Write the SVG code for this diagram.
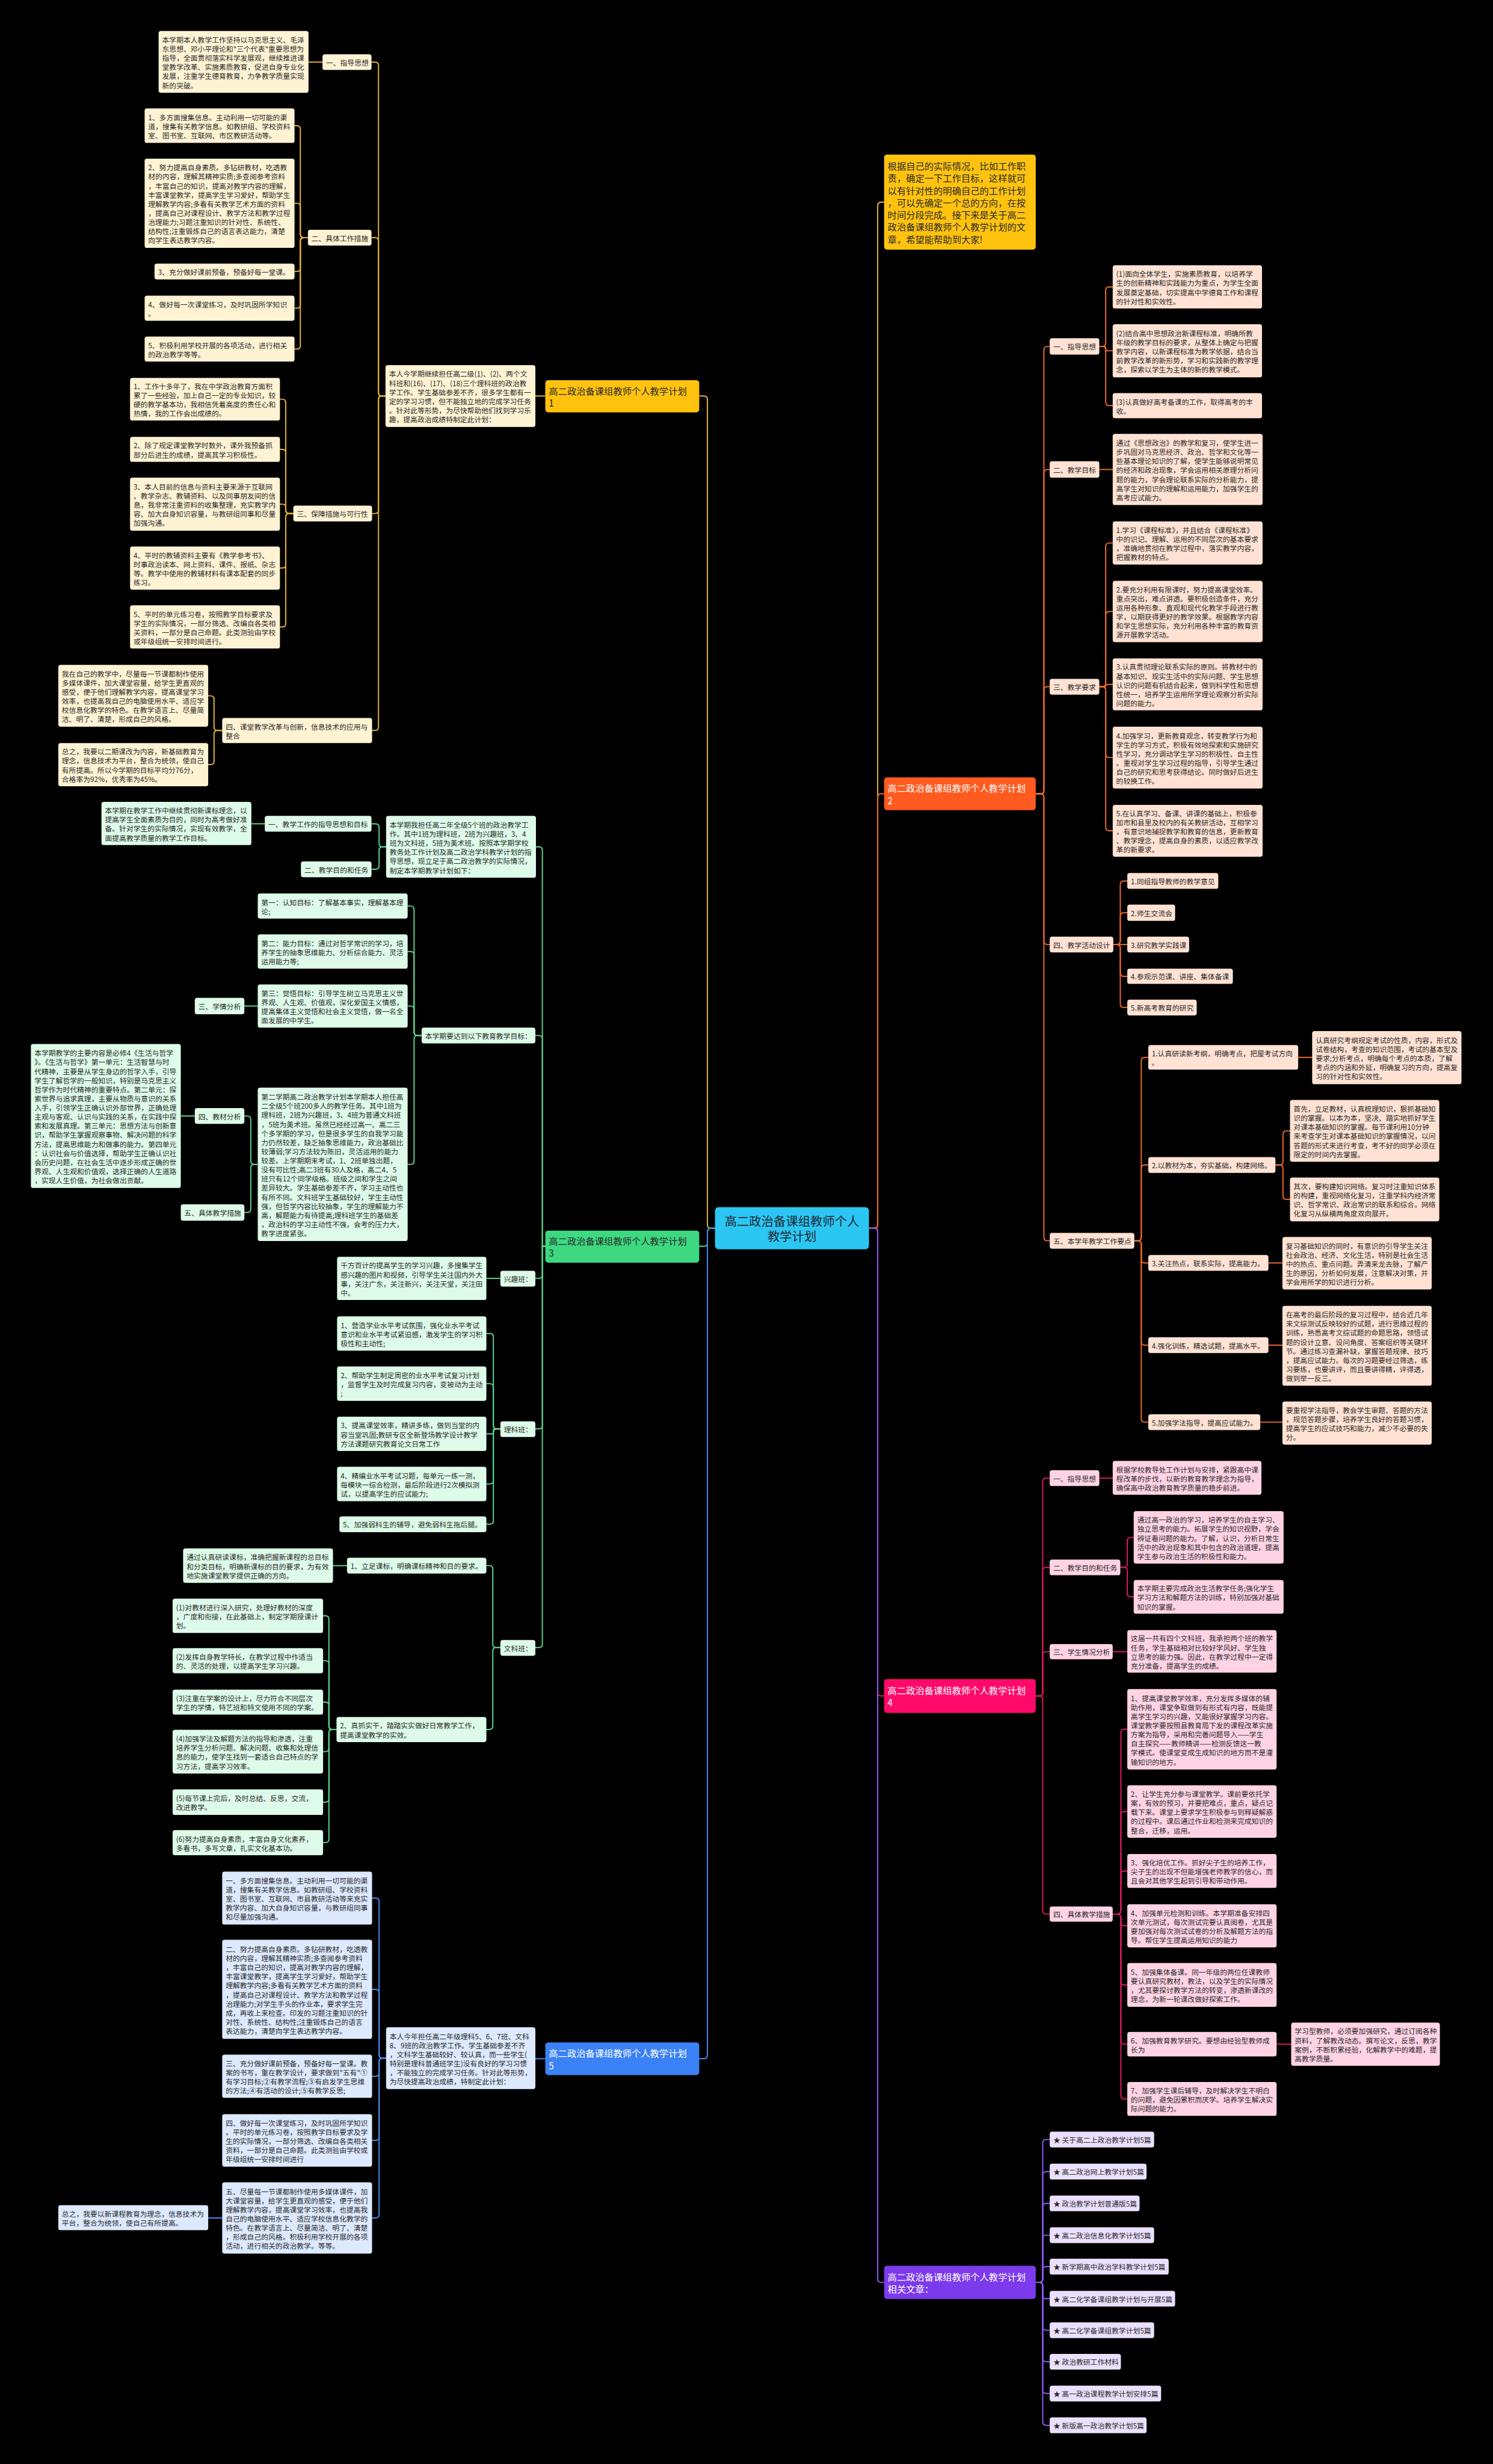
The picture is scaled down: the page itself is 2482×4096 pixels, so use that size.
<svg xmlns="http://www.w3.org/2000/svg" width="2482" height="4096" viewBox="0 0 2482 4096">
<style>
.t{font-family:"Noto Sans CJK SC","Noto Sans",sans-serif;font-size:12.2px;fill:#2a2a2a;dominant-baseline:central}
.tb{font-family:"Noto Sans CJK SC","Noto Sans",sans-serif;font-size:15.8px;fill:#2a2a2a;dominant-baseline:central}
.tc{font-family:"Noto Sans CJK SC","Noto Sans",sans-serif;font-size:21px;fill:#1e2a33;dominant-baseline:central;text-anchor:middle}
.w{fill:#fff}
.s1{fill:#FFF3D4}.s2{fill:#FFE2D3}.s3{fill:#DDFBE8}.s4{fill:#FFD3E4}.s5{fill:#DCE9FE}.s6{fill:#EADFFC}
.c{fill:none;stroke-width:2}
.c1{stroke:#E6B337}.c2{stroke:#F06A2A}.c3{stroke:#5BD58F}.c4{stroke:#DC1A63}.c5{stroke:#4B8BEF}.c6{stroke:#8B5CF6}
</style>
<rect width="2482" height="4096" fill="#000"/>
<g transform="scale(0.9695)">
<g id="connectors" class="c">
<path class="c1" d="M1199 679H1207Q1213 679 1213 685V2100Q1213 2106 1219 2106H1226"/>
<path class="c3" d="M1199 2137H1207Q1213 2137 1213 2131V2112Q1213 2106 1219 2106H1226"/>
<path class="c5" d="M1199 3530H1207Q1213 3530 1213 3524V2112Q1213 2106 1219 2106H1226"/>
<path class="c1" d="M1490 2106H1499Q1505 2106 1505 2100V352.5Q1505 346.5 1511 346.5H1516"/>
<path class="c2" d="M1490 2106H1499Q1505 2106 1505 2100V1367Q1505 1361 1511 1361H1516"/>
<path class="c4" d="M1490 2106H1499Q1505 2106 1505 2112V2902Q1505 2908 1511 2908H1516"/>
<path class="c6" d="M1490 2106H1499Q1505 2106 1505 2112V3907.5Q1505 3913.5 1511 3913.5H1516"/>
<path class="c1" d="M918 679H935"/>
<path class="c1" d="M637 106.5H643Q649 106.5 649 112.5V673Q649 679 655 679H661"/>
<path class="c1" d="M637 407.5H643Q649 407.5 649 413.5V673Q649 679 655 679H661"/>
<path class="c1" d="M638 880.5H643Q649 880.5 649 874.5V685Q649 679 655 679H661"/>
<path class="c1" d="M638 1252.5H643Q649 1252.5 649 1246.5V685Q649 679 655 679H661"/>
<path class="c1" d="M529 106.5H553"/>
<path class="c1" d="M505 215.5H509Q515 215.5 515 221.5V401.5Q515 407.5 521 407.5H528"/>
<path class="c1" d="M505 348.5H509Q515 348.5 515 354.5V401.5Q515 407.5 521 407.5H528"/>
<path class="c1" d="M505 465.5H509Q515 465.5 515 459.5V413.5Q515 407.5 521 407.5H528"/>
<path class="c1" d="M505 528.5H509Q515 528.5 515 522.5V413.5Q515 407.5 521 407.5H528"/>
<path class="c1" d="M505 598.5H509Q515 598.5 515 592.5V413.5Q515 407.5 521 407.5H528"/>
<path class="c1" d="M480 684.5H484Q490 684.5 490 690.5V874.5Q490 880.5 496 880.5H503"/>
<path class="c1" d="M480 770.5H484Q490 770.5 490 776.5V874.5Q490 880.5 496 880.5H503"/>
<path class="c1" d="M480 864.5H484Q490 864.5 490 870.5V874.5Q490 880.5 496 880.5H503"/>
<path class="c1" d="M480 974H484Q490 974 490 968V886.5Q490 880.5 496 880.5H503"/>
<path class="c1" d="M480 1075H484Q490 1075 490 1069V886.5Q490 880.5 496 880.5H503"/>
<path class="c1" d="M357 1193H361Q367 1193 367 1199V1246.5Q367 1252.5 373 1252.5H381"/>
<path class="c1" d="M357 1311H361Q367 1311 367 1305V1258.5Q367 1252.5 373 1252.5H381"/>
<path class="c3" d="M919 1452H924Q930 1452 930 1458V2137H935"/>
<path class="c3" d="M918 1775.5H924Q930 1775.5 930 1781.5V2137H935"/>
<path class="c3" d="M918 2192H924Q930 2192 930 2186V2137H935"/>
<path class="c3" d="M918 2450H924Q930 2450 930 2444V2137H935"/>
<path class="c3" d="M918 2825H924Q930 2825 930 2819V2137H935"/>
<path class="c3" d="M637 1412.5H644Q650 1412.5 650 1418.5V1446Q650 1452 656 1452H662"/>
<path class="c3" d="M637 1490.5H644Q650 1490.5 650 1484.5V1458Q650 1452 656 1452H662"/>
<path class="c3" d="M431 1412.5H454"/>
<path class="c3" d="M699 1553.5H704Q710 1553.5 710 1559.5V1769.5Q710 1775.5 716 1775.5H723"/>
<path class="c3" d="M699 1631.5H704Q710 1631.5 710 1637.5V1769.5Q710 1775.5 716 1775.5H723"/>
<path class="c3" d="M699 1725H704Q710 1725 710 1731V1769.5Q710 1775.5 716 1775.5H723"/>
<path class="c3" d="M699 1996.5H704Q710 1996.5 710 1990.5V1781.5Q710 1775.5 716 1775.5H723"/>
<path class="c3" d="M419 1725H442"/>
<path class="c3" d="M419 1913.5H424Q430 1913.5 430 1919.5V1990.5Q430 1996.5 436 1996.5H442"/>
<path class="c3" d="M419 2079H424Q430 2079 430 2073V2002.5Q430 1996.5 436 1996.5H442"/>
<path class="c3" d="M310 1913.5H334"/>
<path class="c3" d="M834 2192H858"/>
<path class="c3" d="M834 2286.5H840Q846 2286.5 846 2292.5V2444Q846 2450 852 2450H858"/>
<path class="c3" d="M834 2372.5H840Q846 2372.5 846 2378.5V2444Q846 2450 852 2450H858"/>
<path class="c3" d="M834 2458.5H843Q846 2458.5 846 2455.5V2453Q846 2450 849 2450H858"/>
<path class="c3" d="M834 2544.5H840Q846 2544.5 846 2538.5V2456Q846 2450 852 2450H858"/>
<path class="c3" d="M834 2613.5H840Q846 2613.5 846 2607.5V2456Q846 2450 852 2450H858"/>
<path class="c3" d="M834 2684.5H839Q845 2684.5 845 2690.5V2819Q845 2825 851 2825H858"/>
<path class="c3" d="M834 2965.5H839Q845 2965.5 845 2959.5V2831Q845 2825 851 2825H858"/>
<path class="c3" d="M571 2684.5H595"/>
<path class="c3" d="M554 2770.5H558Q564 2770.5 564 2776.5V2959.5Q564 2965.5 570 2965.5H577"/>
<path class="c3" d="M554 2847.5H558Q564 2847.5 564 2853.5V2959.5Q564 2965.5 570 2965.5H577"/>
<path class="c3" d="M554 2918.5H558Q564 2918.5 564 2924.5V2959.5Q564 2965.5 570 2965.5H577"/>
<path class="c3" d="M554 3003.5H558Q564 3003.5 564 2997.5V2971.5Q564 2965.5 570 2965.5H577"/>
<path class="c3" d="M554 3090H558Q564 3090 564 3084V2971.5Q564 2965.5 570 2965.5H577"/>
<path class="c3" d="M554 3159.5H558Q564 3159.5 564 3153.5V2971.5Q564 2965.5 570 2965.5H577"/>
<path class="c5" d="M918 3530H935"/>
<path class="c5" d="M638 3254.5H644Q650 3254.5 650 3260.5V3523Q650 3529 656 3529H662"/>
<path class="c5" d="M638 3411H644Q650 3411 650 3417V3523Q650 3529 656 3529H662"/>
<path class="c5" d="M638 3560H644Q650 3560 650 3554V3535Q650 3529 656 3529H662"/>
<path class="c5" d="M638 3670H644Q650 3670 650 3664V3535Q650 3529 656 3529H662"/>
<path class="c5" d="M638 3803H644Q650 3803 650 3797V3535Q650 3529 656 3529H662"/>
<path class="c5" d="M357 3803H381"/>
<path class="c2" d="M1776 1361H1784Q1790 1361 1790 1355V600Q1790 594 1796 594H1800"/>
<path class="c2" d="M1776 1361H1784Q1790 1361 1790 1355V811Q1790 805 1796 805H1800"/>
<path class="c2" d="M1776 1361H1784Q1790 1361 1790 1355V1183.5Q1790 1177.5 1796 1177.5H1800"/>
<path class="c2" d="M1776 1361H1784Q1790 1361 1790 1367V1613.5Q1790 1619.5 1796 1619.5H1800"/>
<path class="c2" d="M1776 1361H1784Q1790 1361 1790 1367V2121.5Q1790 2127.5 1796 2127.5H1800"/>
<path class="c2" d="M1885 594H1890Q1896 594 1896 588V498Q1896 492 1902 492H1908"/>
<path class="c2" d="M1885 594H1893Q1896 594 1896 597V598.5Q1896 601.5 1899 601.5H1908"/>
<path class="c2" d="M1885 594H1890Q1896 594 1896 600V689.5Q1896 695.5 1902 695.5H1908"/>
<path class="c2" d="M1885 805H1908"/>
<path class="c2" d="M1885 1177.5H1890Q1896 1177.5 1896 1171.5V937Q1896 931 1902 931H1908"/>
<path class="c2" d="M1885 1177.5H1890Q1896 1177.5 1896 1171.5V1054.5Q1896 1048.5 1902 1048.5H1908"/>
<path class="c2" d="M1885 1177.5H1893Q1896 1177.5 1896 1175.5Q1896 1173.5 1899 1173.5H1908"/>
<path class="c2" d="M1885 1177.5H1890Q1896 1177.5 1896 1183.5V1293Q1896 1299 1902 1299H1908"/>
<path class="c2" d="M1885 1177.5H1890Q1896 1177.5 1896 1183.5V1418.5Q1896 1424.5 1902 1424.5H1908"/>
<path class="c2" d="M1909 1619.5H1915Q1921 1619.5 1921 1613.5V1516.5Q1921 1510.5 1927 1510.5H1933"/>
<path class="c2" d="M1909 1619.5H1915Q1921 1619.5 1921 1613.5V1571Q1921 1565 1927 1565H1933"/>
<path class="c2" d="M1909 1619.5H1933"/>
<path class="c2" d="M1909 1619.5H1915Q1921 1619.5 1921 1625.5V1668Q1921 1674 1927 1674H1933"/>
<path class="c2" d="M1909 1619.5H1915Q1921 1619.5 1921 1625.5V1721.5Q1921 1727.5 1927 1727.5H1933"/>
<path class="c2" d="M1945 2127.5H1951Q1957 2127.5 1957 2121.5V1819Q1957 1813 1963 1813H1969"/>
<path class="c2" d="M1945 2127.5H1951Q1957 2127.5 1957 2121.5V2003.5Q1957 1997.5 1963 1997.5H1969"/>
<path class="c2" d="M1945 2127.5H1951Q1957 2127.5 1957 2133.5V2159.5Q1957 2165.5 1963 2165.5H1969"/>
<path class="c2" d="M1945 2127.5H1951Q1957 2127.5 1957 2133.5V2300.5Q1957 2306.5 1963 2306.5H1969"/>
<path class="c2" d="M1945 2127.5H1951Q1957 2127.5 1957 2133.5V2432.5Q1957 2438.5 1963 2438.5H1969"/>
<path class="c2" d="M2226 1813H2250"/>
<path class="c2" d="M2187 1997.5H2194Q2200 1997.5 2200 1991.5V1945Q2200 1939 2206 1939H2212"/>
<path class="c2" d="M2187 1997.5H2194Q2200 1997.5 2200 2003.5V2050.5Q2200 2056.5 2206 2056.5H2212"/>
<path class="c2" d="M2175 2165.5H2199"/>
<path class="c2" d="M2175 2306.5H2199"/>
<path class="c2" d="M2161 2438.5H2199"/>
<path class="c4" d="M1776 2908H1782Q1788 2908 1788 2902V2540.5Q1788 2534.5 1794 2534.5H1800"/>
<path class="c4" d="M1776 2908H1782Q1788 2908 1788 2902V2693.5Q1788 2687.5 1794 2687.5H1800"/>
<path class="c4" d="M1776 2908H1782Q1788 2908 1788 2902V2838Q1788 2832 1794 2832H1800"/>
<path class="c4" d="M1776 2908H1782Q1788 2908 1788 2914V3276Q1788 3282 1794 3282H1800"/>
<path class="c4" d="M1885 2534.5H1908"/>
<path class="c4" d="M1921 2687.5H1927Q1933 2687.5 1933 2681.5V2642Q1933 2636 1939 2636H1944"/>
<path class="c4" d="M1921 2687.5H1927Q1933 2687.5 1933 2693.5V2732Q1933 2738 1939 2738H1944"/>
<path class="c4" d="M1908 2832H1933"/>
<path class="c4" d="M1908 3282H1916Q1922 3282 1922 3276V2971Q1922 2965 1928 2965H1933"/>
<path class="c4" d="M1908 3282H1916Q1922 3282 1922 3276V3112Q1922 3106 1928 3106H1933"/>
<path class="c4" d="M1908 3282H1916Q1922 3282 1922 3276V3214Q1922 3208 1928 3208H1933"/>
<path class="c4" d="M1908 3282H1916Q1922 3282 1922 3288V3296Q1922 3302 1928 3302H1933"/>
<path class="c4" d="M1908 3282H1916Q1922 3282 1922 3288V3397.5Q1922 3403.5 1928 3403.5H1933"/>
<path class="c4" d="M1908 3282H1916Q1922 3282 1922 3288V3499Q1922 3505 1928 3505H1933"/>
<path class="c4" d="M1908 3282H1916Q1922 3282 1922 3288V3593Q1922 3599 1928 3599H1933"/>
<path class="c4" d="M2189 3505H2214"/>
<path class="c6" d="M1776 3913.5H1782Q1788 3913.5 1788 3907.5V3674.5Q1788 3668.5 1794 3668.5H1800"/>
<path class="c6" d="M1776 3913.5H1782Q1788 3913.5 1788 3907.5V3729.5Q1788 3723.5 1794 3723.5H1800"/>
<path class="c6" d="M1776 3913.5H1782Q1788 3913.5 1788 3907.5V3784Q1788 3778 1794 3778H1800"/>
<path class="c6" d="M1776 3913.5H1782Q1788 3913.5 1788 3907.5V3838.5Q1788 3832.5 1794 3832.5H1800"/>
<path class="c6" d="M1776 3913.5H1782Q1788 3913.5 1788 3907.5V3892.5Q1788 3886.5 1794 3886.5H1800"/>
<path class="c6" d="M1776 3913.5H1782Q1788 3913.5 1788 3919.5V3935.5Q1788 3941.5 1794 3941.5H1800"/>
<path class="c6" d="M1776 3913.5H1782Q1788 3913.5 1788 3919.5V3989.5Q1788 3995.5 1794 3995.5H1800"/>
<path class="c6" d="M1776 3913.5H1782Q1788 3913.5 1788 3919.5V4043.5Q1788 4049.5 1794 4049.5H1800"/>
<path class="c6" d="M1776 3913.5H1782Q1788 3913.5 1788 3919.5V4098Q1788 4104 1794 4104H1800"/>
<path class="c6" d="M1776 3913.5H1782Q1788 3913.5 1788 3919.5V4152.5Q1788 4158.5 1794 4158.5H1800"/>
</g>

<g id="center"><rect x="1226" y="2070" width="264" height="72" rx="6" fill="#2CC6F3"/><text class="tc" x="1358" y="2093"><tspan x="1358">高二政治备课组教师个人</tspan><tspan x="1358" dy="26">教学计划</tspan></text></g>

<g id="b1"><rect x="935" y="652" width="264" height="55" rx="5" fill="#FFC20E"/><text class="tb" x="941" y="669"><tspan x="941">高二政治备课组教师个人教学计划</tspan><tspan x="941" dy="21">1</tspan></text></g>
<g id="b1-intro"><rect class="s1" x="661" y="626" width="257" height="106" rx="4"/><text class="t" x="667" y="640"><tspan x="667">本人今学期继续担任高二级(1)、(2)、两个文</tspan><tspan x="667" dy="15.6">科班和(16)、(17)、(18)三个理科班的政治教</tspan><tspan x="667" dy="15.6">学工作。学生基础参差不齐，很多学生都有一</tspan><tspan x="667" dy="15.6">定的学习习惯，但不能独立地的完成学习任务</tspan><tspan x="667" dy="15.6">。针对此等形势，为尽快帮助他们找到学习乐</tspan><tspan x="667" dy="15.6">趣，提高政治成绩特制定此计划：</tspan></text></g>
<g id="b1-1"><rect class="s1" x="553" y="93" width="84" height="27" rx="4"/><text class="t" x="559" y="106.5">一、指导思想</text></g>
<g id="b1-1a"><rect class="s1" x="272" y="53" width="257" height="106" rx="4"/><text class="t" x="278" y="67"><tspan x="278">本学期本人教学工作坚持以马克思主义、毛泽</tspan><tspan x="278" dy="15.6">东思想、邓小平理论和"三个代表"重要思想为</tspan><tspan x="278" dy="15.6">指导，全面贯彻落实科学发展观，继续推进课</tspan><tspan x="278" dy="15.6">堂教学改革、实施素质教育，促进自身专业化</tspan><tspan x="278" dy="15.6">发展，注重学生德育教育，力争教学质量实现</tspan><tspan x="278" dy="15.6">新的突破。</tspan></text></g>
<g id="b1-2"><rect class="s1" x="528" y="394" width="109" height="27" rx="4"/><text class="t" x="534" y="407.5">二、具体工作措施</text></g>
<g id="b1-2a"><rect class="s1" x="248" y="186" width="257" height="59" rx="4"/><text class="t" x="254" y="199.9"><tspan x="254">1、多方面搜集信息。主动利用一切可能的渠</tspan><tspan x="254" dy="15.6">道，搜集有关教学信息。如教研组、学校资料</tspan><tspan x="254" dy="15.6">室、图书室、互联网、市区教研活动等。</tspan></text></g>
<g id="b1-2b"><rect class="s1" x="248" y="272" width="257" height="153" rx="4"/><text class="t" x="254" y="286.1"><tspan x="254">2、努力提高自身素质。多钻研教材，吃透教</tspan><tspan x="254" dy="15.6">材的内容，理解其精神实质;多查阅参考资料</tspan><tspan x="254" dy="15.6">，丰富自己的知识，提高对教学内容的理解，</tspan><tspan x="254" dy="15.6">丰富课堂教学，提高学生学习爱好，帮助学生</tspan><tspan x="254" dy="15.6">理解教学内容;多看有关教学艺术方面的资料</tspan><tspan x="254" dy="15.6">，提高自己对课程设计、教学方法和教学过程</tspan><tspan x="254" dy="15.6">治理能力;习题注重知识的针对性、系统性、</tspan><tspan x="254" dy="15.6">结构性;注重锻炼自己的语言表达能力，清楚</tspan><tspan x="254" dy="15.6">向学生表达教学内容。</tspan></text></g>
<g id="b1-2c"><rect class="s1" x="265" y="452" width="240" height="27" rx="4"/><text class="t" x="271" y="465.5">3、充分做好课前预备，预备好每一堂课。</text></g>
<g id="b1-2d"><rect class="s1" x="248" y="507" width="257" height="43" rx="4"/><text class="t" x="254" y="520.7"><tspan x="254">4、做好每一次课堂练习，及时巩固所学知识</tspan><tspan x="254" dy="15.6">。</tspan></text></g>
<g id="b1-2e"><rect class="s1" x="248" y="577" width="257" height="43" rx="4"/><text class="t" x="254" y="590.7"><tspan x="254">5、积极利用学校开展的各项活动，进行相关</tspan><tspan x="254" dy="15.6">的政治教学等等。</tspan></text></g>
<g id="b1-3"><rect class="s1" x="503" y="867" width="135" height="27" rx="4"/><text class="t" x="509" y="880.5">三、保障措施与可行性</text></g>
<g id="b1-3a"><rect class="s1" x="223" y="648" width="257" height="73" rx="4"/><text class="t" x="229" y="661.1"><tspan x="229">1、工作十多年了，我在中学政治教育方面积</tspan><tspan x="229" dy="15.6">累了一些经验，加上自己一定的专业知识，较</tspan><tspan x="229" dy="15.6">硬的教学基本功，我相信凭着高度的责任心和</tspan><tspan x="229" dy="15.6">热情，我的工作会出成绩的。</tspan></text></g>
<g id="b1-3b"><rect class="s1" x="223" y="749" width="257" height="43" rx="4"/><text class="t" x="229" y="762.7"><tspan x="229">2、除了规定课堂教学时数外，课外我预备抓</tspan><tspan x="229" dy="15.6">部分后进生的成绩，提高其学习积极性。</tspan></text></g>
<g id="b1-3c"><rect class="s1" x="223" y="819" width="257" height="91" rx="4"/><text class="t" x="229" y="833.3"><tspan x="229">3、本人目前的信息与资料主要来源于互联网</tspan><tspan x="229" dy="15.6">、教学杂志、教辅资料、以及同事朋友间的信</tspan><tspan x="229" dy="15.6">息，我非常注重资料的收集整理，充实教学内</tspan><tspan x="229" dy="15.6">容、加大自身知识容量，与教研组同事和尽量</tspan><tspan x="229" dy="15.6">加强沟通。</tspan></text></g>
<g id="b1-3d"><rect class="s1" x="223" y="937" width="257" height="74" rx="4"/><text class="t" x="229" y="950.6"><tspan x="229">4、平时的教辅资料主要有《教学参考书》、</tspan><tspan x="229" dy="15.6">时事政治读本、网上资料、课件、报纸、杂志</tspan><tspan x="229" dy="15.6">等。教学中使用的教辅材料有课本配套的同步</tspan><tspan x="229" dy="15.6">练习。</tspan></text></g>
<g id="b1-3e"><rect class="s1" x="223" y="1038" width="257" height="74" rx="4"/><text class="t" x="229" y="1051.6"><tspan x="229">5、平时的单元练习卷，按照教学目标要求及</tspan><tspan x="229" dy="15.6">学生的实际情况，一部分筛选、改编自各类相</tspan><tspan x="229" dy="15.6">关资料，一部分是自己命题。此类测验由学校</tspan><tspan x="229" dy="15.6">或年级组统一安排时间进行。</tspan></text></g>
<g id="b1-4"><rect class="s1" x="381" y="1231" width="257" height="43" rx="4"/><text class="t" x="387" y="1244.7"><tspan x="387">四、课堂教学改革与创新，信息技术的应用与</tspan><tspan x="387" dy="15.6">整合</tspan></text></g>
<g id="b1-4a"><rect class="s1" x="100" y="1140" width="257" height="106" rx="4"/><text class="t" x="106" y="1154"><tspan x="106">我在自己的教学中，尽量每一节课都制作使用</tspan><tspan x="106" dy="15.6">多媒体课件，加大课堂容量，给学生更直观的</tspan><tspan x="106" dy="15.6">感受，便于他们理解教学内容，提高课堂学习</tspan><tspan x="106" dy="15.6">效率，也提高我自己的电脑使用水平、适应学</tspan><tspan x="106" dy="15.6">校信息化教学的特色。在教学语言上、尽量简</tspan><tspan x="106" dy="15.6">洁、明了、清楚，形成自己的风格。</tspan></text></g>
<g id="b1-4b"><rect class="s1" x="100" y="1274" width="257" height="74" rx="4"/><text class="t" x="106" y="1287.6"><tspan x="106">总之，我要以二期课改为内容，新基础教育为</tspan><tspan x="106" dy="15.6">理念，信息技术为平台，整合为统领，使自己</tspan><tspan x="106" dy="15.6">有所提高。所以今学期的目标平均分76分，</tspan><tspan x="106" dy="15.6">合格率为92%，优秀率为45%。</tspan></text></g>

<g id="b3"><rect x="935" y="2110" width="264" height="55" rx="5" fill="#3DD880"/><text class="tb" x="941" y="2127"><tspan x="941">高二政治备课组教师个人教学计划</tspan><tspan x="941" dy="21">3</tspan></text></g>
<g id="b3-intro"><rect class="s3" x="662" y="1399" width="257" height="106" rx="4"/><text class="t" x="668" y="1413"><tspan x="668">本学期我担任高二年全级5个班的政治教学工</tspan><tspan x="668" dy="15.6">作。其中1班为理科班，2班为兴趣班，3、4</tspan><tspan x="668" dy="15.6">班为文科班，5班为美术班。按照本学期学校</tspan><tspan x="668" dy="15.6">教务处工作计划及高二政治学科教学计划的指</tspan><tspan x="668" dy="15.6">导思想，现立足于高二政治教学的实际情况，</tspan><tspan x="668" dy="15.6">制定本学期教学计划如下：</tspan></text></g>
<g id="b3-1"><rect class="s3" x="454" y="1399" width="183" height="27" rx="4"/><text class="t" x="460" y="1412.5">一、教学工作的指导思想和目标</text></g>
<g id="b3-1a"><rect class="s3" x="174" y="1375" width="257" height="74" rx="4"/><text class="t" x="180" y="1388.6"><tspan x="180">本学期在教学工作中继续贯彻新课标理念，以</tspan><tspan x="180" dy="15.6">提高学生全面素质为目的，同时为高考做好准</tspan><tspan x="180" dy="15.6">备。针对学生的实际情况，实现有效教学，全</tspan><tspan x="180" dy="15.6">面提高教学质量的教学工作目标。</tspan></text></g>
<g id="b3-2"><rect class="s3" x="516" y="1477" width="121" height="27" rx="4"/><text class="t" x="522" y="1490.5">二、教学目的和任务</text></g>
<g id="b3-goal"><rect class="s3" x="723" y="1762" width="195" height="27" rx="4"/><text class="t" x="729" y="1775.5">本学期要达到以下教育教学目标：</text></g>
<g id="b3-g1"><rect class="s3" x="442" y="1532" width="257" height="43" rx="4"/><text class="t" x="448" y="1545.7"><tspan x="448">第一：认知目标：了解基本事实，理解基本理</tspan><tspan x="448" dy="15.6">论;</tspan></text></g>
<g id="b3-g2"><rect class="s3" x="442" y="1602" width="257" height="59" rx="4"/><text class="t" x="448" y="1615.9"><tspan x="448">第二：能力目标：通过对哲学常识的学习，培</tspan><tspan x="448" dy="15.6">养学生的抽象思维能力、分析综合能力、灵活</tspan><tspan x="448" dy="15.6">运用能力等;</tspan></text></g>
<g id="b3-g3"><rect class="s3" x="442" y="1688" width="257" height="74" rx="4"/><text class="t" x="448" y="1701.6"><tspan x="448">第三：觉悟目标：引导学生树立马克思主义世</tspan><tspan x="448" dy="15.6">界观、人生观、价值观，深化爱国主义情感，</tspan><tspan x="448" dy="15.6">提高集体主义觉悟和社会主义觉悟，做一名全</tspan><tspan x="448" dy="15.6">面发展的中学生。</tspan></text></g>
<g id="b3-3"><rect class="s3" x="334" y="1711" width="85" height="28" rx="4"/><text class="t" x="340" y="1725">三、学情分析</text></g>
<g id="b3-g4"><rect class="s3" x="442" y="1865" width="257" height="263" rx="4"/><text class="t" x="448" y="1879.5"><tspan x="448">第二学期高二政治教学计划本学期本人担任高</tspan><tspan x="448" dy="15.6">二全级5个班200多人的教学任务。其中1班为</tspan><tspan x="448" dy="15.6">理科班，2班为兴趣班，3、4班为普通文科班</tspan><tspan x="448" dy="15.6">，5班为美术班。虽然已经经过高一、高二三</tspan><tspan x="448" dy="15.6">个多学期的学习，但是很多学生的自我学习能</tspan><tspan x="448" dy="15.6">力仍然较差，缺乏抽象思维能力，政治基础比</tspan><tspan x="448" dy="15.6">较薄弱;学习方法较为陈旧，灵活运用的能力</tspan><tspan x="448" dy="15.6">较差。上学期期末考试，1、2班单独出题，</tspan><tspan x="448" dy="15.6">没有可比性;高二3班有30人及格，高二4、5</tspan><tspan x="448" dy="15.6">班只有12个同学级格。班级之间和学生之间</tspan><tspan x="448" dy="15.6">差异较大。学生基础参差不齐，学习主动性也</tspan><tspan x="448" dy="15.6">有所不同。文科班学生基础较好，学生主动性</tspan><tspan x="448" dy="15.6">强，但哲学内容比较抽象，学生的理解能力不</tspan><tspan x="448" dy="15.6">高，解题能力有待提高;理科班学生的基础差</tspan><tspan x="448" dy="15.6">，政治科的学习主动性不强，会考的压力大，</tspan><tspan x="448" dy="15.6">教学进度紧张。</tspan></text></g>
<g id="b3-4"><rect class="s3" x="334" y="1900" width="85" height="27" rx="4"/><text class="t" x="340" y="1913.5">四、教材分析</text></g>
<g id="b3-4a"><rect class="s3" x="53" y="1790" width="257" height="247" rx="4"/><text class="t" x="59" y="1804.3"><tspan x="59">本学期教学的主要内容是必修4《生活与哲学</tspan><tspan x="59" dy="15.6">》。《生活与哲学》第一单元：生活智慧与时</tspan><tspan x="59" dy="15.6">代精神，主要是从学生身边的哲学入手，引导</tspan><tspan x="59" dy="15.6">学生了解哲学的一般知识，特别是马克思主义</tspan><tspan x="59" dy="15.6">哲学作为时代精神的重要特点。第二单元：探</tspan><tspan x="59" dy="15.6">索世界与追求真理，主要从物质与意识的关系</tspan><tspan x="59" dy="15.6">入手，引领学生正确认识外部世界，正确处理</tspan><tspan x="59" dy="15.6">主观与客观、认识与实践的关系，在实践中探</tspan><tspan x="59" dy="15.6">索和发展真理。第三单元：思想方法与创新意</tspan><tspan x="59" dy="15.6">识，帮助学生掌握观察事物、解决问题的科学</tspan><tspan x="59" dy="15.6">方法，提高思维能力和做事的能力。第四单元</tspan><tspan x="59" dy="15.6">：认识社会与价值选择，帮助学生正确认识社</tspan><tspan x="59" dy="15.6">会历史问题，在社会生活中逐步形成正确的世</tspan><tspan x="59" dy="15.6">界观、人生观和价值观，选择正确的人生道路</tspan><tspan x="59" dy="15.6">，实现人生价值，为社会做出贡献。</tspan></text></g>
<g id="b3-5"><rect class="s3" x="310" y="2065" width="109" height="28" rx="4"/><text class="t" x="316" y="2079">五、具体教学措施</text></g>
<g id="b3-xq"><rect class="s3" x="858" y="2179" width="60" height="27" rx="4"/><text class="t" x="864" y="2192.5">兴趣班：</text></g>
<g id="b3-xqa"><rect class="s3" x="578" y="2155" width="256" height="74" rx="4"/><text class="t" x="584" y="2168.6"><tspan x="584">千方百计的提高学生的学习兴趣，多搜集学生</tspan><tspan x="584" dy="15.6">感兴趣的图片和视频，引导学生关注国内外大</tspan><tspan x="584" dy="15.6">事，关注广东，关注新兴，关注天堂，关注田</tspan><tspan x="584" dy="15.6">中。</tspan></text></g>
<g id="b3-lk"><rect class="s3" x="858" y="2437" width="60" height="27" rx="4"/><text class="t" x="864" y="2450.5">理科班：</text></g>
<g id="b3-lk1"><rect class="s3" x="578" y="2257" width="256" height="59" rx="4"/><text class="t" x="584" y="2270.9"><tspan x="584">1、营造学业水平考试氛围，强化业水平考试</tspan><tspan x="584" dy="15.6">意识和业水平考试紧迫感，激发学生的学习积</tspan><tspan x="584" dy="15.6">极性和主动性;</tspan></text></g>
<g id="b3-lk2"><rect class="s3" x="578" y="2343" width="256" height="59" rx="4"/><text class="t" x="584" y="2356.9"><tspan x="584">2、帮助学生制定周密的业水平考试复习计划</tspan><tspan x="584" dy="15.6">，监督学生及时完成复习内容，变被动为主动</tspan><tspan x="584" dy="15.6">;</tspan></text></g>
<g id="b3-lk3"><rect class="s3" x="578" y="2429" width="256" height="59" rx="4"/><text class="t" x="584" y="2442.9"><tspan x="584">3、提高课堂效率，精讲多练，做到当堂的内</tspan><tspan x="584" dy="15.6">容当堂巩固;教研专区全新登场教学设计教学</tspan><tspan x="584" dy="15.6">方法课题研究教育论文日常工作</tspan></text></g>
<g id="b3-lk4"><rect class="s3" x="578" y="2515" width="256" height="59" rx="4"/><text class="t" x="584" y="2528.9"><tspan x="584">4、精编业水平考试习题，每单元一练一测，</tspan><tspan x="584" dy="15.6">每模块一综合检测，最后阶段进行2次模拟测</tspan><tspan x="584" dy="15.6">试，以提高学生的应试能力;</tspan></text></g>
<g id="b3-lk5"><rect class="s3" x="582" y="2600" width="252" height="27" rx="4"/><text class="t" x="588" y="2613.5">5、加强弱科生的辅导，避免弱科生拖后腿。</text></g>
<g id="b3-wk"><rect class="s3" x="858" y="2812" width="60" height="27" rx="4"/><text class="t" x="864" y="2825.5">文科班：</text></g>
<g id="b3-wk1"><rect class="s3" x="595" y="2671" width="239" height="27" rx="4"/><text class="t" x="601" y="2684.5">1、立足课标，明确课标精神和目的要求。</text></g>
<g id="b3-wk1a"><rect class="s3" x="314" y="2655" width="257" height="59" rx="4"/><text class="t" x="320" y="2668.9"><tspan x="320">通过认真研读课标，准确把握新课程的总目标</tspan><tspan x="320" dy="15.6">和分类目标，明确新课标的目的要求，为有效</tspan><tspan x="320" dy="15.6">地实施课堂教学提供正确的方向。</tspan></text></g>
<g id="b3-wk2"><rect class="s3" x="577" y="2944" width="257" height="43" rx="4"/><text class="t" x="583" y="2957.7"><tspan x="583">2、真抓实干，踏踏实实做好日常教学工作，</tspan><tspan x="583" dy="15.6">提高课堂教学的实效。</tspan></text></g>
<g id="b3-wk2a"><rect class="s3" x="296" y="2741" width="258" height="59" rx="4"/><text class="t" x="302" y="2754.9"><tspan x="302">(1)对教材进行深入研究，处理好教材的深度</tspan><tspan x="302" dy="15.6">，广度和衔接，在此基础上，制定学期授课计</tspan><tspan x="302" dy="15.6">划。</tspan></text></g>
<g id="b3-wk2b"><rect class="s3" x="296" y="2826" width="258" height="43" rx="4"/><text class="t" x="302" y="2839.7"><tspan x="302">(2)发挥自身教学特长，在教学过程中作适当</tspan><tspan x="302" dy="15.6">的、灵活的处理，以提高学生学习兴趣。</tspan></text></g>
<g id="b3-wk2c"><rect class="s3" x="296" y="2897" width="258" height="43" rx="4"/><text class="t" x="302" y="2910.7"><tspan x="302">(3)注重在学案的设计上，尽力符合不同层次</tspan><tspan x="302" dy="15.6">学生的学情，特艺班和特文使用不同的学案。</tspan></text></g>
<g id="b3-wk2d"><rect class="s3" x="296" y="2966" width="258" height="75" rx="4"/><text class="t" x="302" y="2980.1"><tspan x="302">(4)加强学法及解题方法的指导和渗透，注重</tspan><tspan x="302" dy="15.6">培养学生分析问题、解决问题、收集和处理信</tspan><tspan x="302" dy="15.6">息的能力，使学生找到一套适合自己特点的学</tspan><tspan x="302" dy="15.6">习方法，提高学习效率。</tspan></text></g>
<g id="b3-wk2e"><rect class="s3" x="296" y="3068" width="258" height="44" rx="4"/><text class="t" x="302" y="3082.2"><tspan x="302">(5)每节课上完后，及时总结、反思，交流，</tspan><tspan x="302" dy="15.6">改进教学。</tspan></text></g>
<g id="b3-wk2f"><rect class="s3" x="296" y="3138" width="258" height="43" rx="4"/><text class="t" x="302" y="3151.7"><tspan x="302">(6)努力提高自身素质，丰富自身文化素养，</tspan><tspan x="302" dy="15.6">多看书，多写文章，扎实文化基本功。</tspan></text></g>

<g id="b5"><rect x="935" y="3502" width="264" height="56" rx="5" fill="#3B82F6"/><text class="tb w" x="941" y="3519.5"><tspan x="941">高二政治备课组教师个人教学计划</tspan><tspan x="941" dy="21">5</tspan></text></g>
<g id="b5-intro"><rect class="s5" x="662" y="3476" width="256" height="106" rx="4"/><text class="t" x="668" y="3490"><tspan x="668">本人今年担任高二年级理科5、6、7班、文科</tspan><tspan x="668" dy="15.6">8、9班的政治教学工作。学生基础参差不齐</tspan><tspan x="668" dy="15.6">，文科学生基础较好、较认真，而一些学生(</tspan><tspan x="668" dy="15.6">特别是理科普通班学生)没有良好的学习习惯</tspan><tspan x="668" dy="15.6">，不能独立的完成学习任务。针对此等形势，</tspan><tspan x="668" dy="15.6">为尽快提高政治成绩，特制定此计划：</tspan></text></g>
<g id="b5-1"><rect class="s5" x="381" y="3209" width="257" height="91" rx="4"/><text class="t" x="387" y="3223.3"><tspan x="387">一、多方面搜集信息。主动利用一切可能的渠</tspan><tspan x="387" dy="15.6">道，搜集有关教学信息。如教研组、学校资料</tspan><tspan x="387" dy="15.6">室、图书室、互联网、市县教研活动等来充实</tspan><tspan x="387" dy="15.6">教学内容、加大自身知识容量，与教研组同事</tspan><tspan x="387" dy="15.6">和尽量加强沟通。</tspan></text></g>
<g id="b5-2"><rect class="s5" x="381" y="3326" width="257" height="170" rx="4"/><text class="t" x="387" y="3340.8"><tspan x="387">二、努力提高自身素质。多钻研教材，吃透教</tspan><tspan x="387" dy="15.6">材的内容，理解其精神实质;多查阅参考资料</tspan><tspan x="387" dy="15.6">，丰富自己的知识，提高对教学内容的理解，</tspan><tspan x="387" dy="15.6">丰富课堂教学，提高学生学习爱好，帮助学生</tspan><tspan x="387" dy="15.6">理解教学内容;多看有关教学艺术方面的资料</tspan><tspan x="387" dy="15.6">，提高自己对课程设计、教学方法和教学过程</tspan><tspan x="387" dy="15.6">治理能力;对学生手头的作业本，要求学生完</tspan><tspan x="387" dy="15.6">成，再收上来检查。印发的习题注重知识的针</tspan><tspan x="387" dy="15.6">对性、系统性、结构性;注重锻炼自己的语言</tspan><tspan x="387" dy="15.6">表达能力，清楚向学生表达教学内容。</tspan></text></g>
<g id="b5-3"><rect class="s5" x="381" y="3523" width="257" height="74" rx="4"/><text class="t" x="387" y="3536.6"><tspan x="387">三、充分做好课前预备，预备好每一堂课。教</tspan><tspan x="387" dy="15.6">案的书写，重在教学设计，要求做到"五有"①</tspan><tspan x="387" dy="15.6">有学习目标;②有教学流程;③有启发学生思维</tspan><tspan x="387" dy="15.6">的方法;④有活动的设计;⑤有教学反思;</tspan></text></g>
<g id="b5-4"><rect class="s5" x="381" y="3625" width="257" height="90" rx="4"/><text class="t" x="387" y="3638.8"><tspan x="387">四、做好每一次课堂练习，及时巩固所学知识</tspan><tspan x="387" dy="15.6">。平时的单元练习卷，按照教学目标要求及学</tspan><tspan x="387" dy="15.6">生的实际情况，一部分筛选、改编自各类相关</tspan><tspan x="387" dy="15.6">资料，一部分是自己命题。此类测验由学校或</tspan><tspan x="387" dy="15.6">年级组统一安排时间进行</tspan></text></g>
<g id="b5-5"><rect class="s5" x="381" y="3742" width="257" height="122" rx="4"/><text class="t" x="387" y="3756.2"><tspan x="387">五、尽量每一节课都制作使用多媒体课件，加</tspan><tspan x="387" dy="15.6">大课堂容量，给学生更直观的感受，便于他们</tspan><tspan x="387" dy="15.6">理解教学内容，提高课堂学习效率，也提高我</tspan><tspan x="387" dy="15.6">自己的电脑使用水平、适应学校信息化教学的</tspan><tspan x="387" dy="15.6">特色。在教学语言上、尽量简洁、明了、清楚</tspan><tspan x="387" dy="15.6">，形成自己的风格。积极利用学校开展的各项</tspan><tspan x="387" dy="15.6">活动，进行相关的政治教学。等等。</tspan></text></g>
<g id="b5-5a"><rect class="s5" x="100" y="3781" width="257" height="43" rx="4"/><text class="t" x="106" y="3794.7"><tspan x="106">总之，我要以新课程教育为理念，信息技术为</tspan><tspan x="106" dy="15.6">平台，整合为统领，使自己有所提高。</tspan></text></g>

<g id="intro"><rect x="1516" y="265" width="260" height="163" rx="5" fill="#FFC20E"/><text class="tb" x="1522" y="283.8"><tspan x="1522">根据自己的实际情况，比如工作职</tspan><tspan x="1522" dy="20.9">责，确定一下工作目标，这样就可</tspan><tspan x="1522" dy="20.9">以有针对性的明确自己的工作计划</tspan><tspan x="1522" dy="20.9">，可以先确定一个总的方向，在按</tspan><tspan x="1522" dy="20.9">时间分段完成。接下来是关于高二</tspan><tspan x="1522" dy="20.9">政治备课组教师个人教学计划的文</tspan><tspan x="1522" dy="20.9">章，希望能帮助到大家!</tspan></text></g>

<g id="b2"><rect x="1516" y="1333" width="260" height="56" rx="5" fill="#FF5A1F"/><text class="tb w" x="1522" y="1350.5"><tspan x="1522">高二政治备课组教师个人教学计划</tspan><tspan x="1522" dy="21">2</tspan></text></g>
<g id="b2-1"><rect class="s2" x="1800" y="580" width="85" height="28" rx="4"/><text class="t" x="1806" y="594">一、指导思想</text></g>
<g id="b2-1a"><rect class="s2" x="1908" y="455" width="256" height="74" rx="4"/><text class="t" x="1914" y="468.6"><tspan x="1914">(1)面向全体学生，实施素质教育，以培养学</tspan><tspan x="1914" dy="15.6">生的创新精神和实践能力为重点，为学生全面</tspan><tspan x="1914" dy="15.6">发展奠定基础，切实提高中学德育工作和课程</tspan><tspan x="1914" dy="15.6">的针对性和实效性。</tspan></text></g>
<g id="b2-1b"><rect class="s2" x="1908" y="556" width="256" height="91" rx="4"/><text class="t" x="1914" y="570.3"><tspan x="1914">(2)结合高中思想政治新课程标准，明确所教</tspan><tspan x="1914" dy="15.6">年级的教学目标的要求，从整体上确定与把握</tspan><tspan x="1914" dy="15.6">教学内容，以新课程标准为教学依据，结合当</tspan><tspan x="1914" dy="15.6">前教学改革的新形势，学习和实践新的教学理</tspan><tspan x="1914" dy="15.6">念，探索以学生为主体的新的教学模式。</tspan></text></g>
<g id="b2-1c"><rect class="s2" x="1908" y="674" width="256" height="43" rx="4"/><text class="t" x="1914" y="687.7"><tspan x="1914">(3)认真做好高考备课的工作，取得高考的丰</tspan><tspan x="1914" dy="15.6">收。</tspan></text></g>
<g id="b2-2"><rect class="s2" x="1800" y="791" width="85" height="28" rx="4"/><text class="t" x="1806" y="805">二、教学目标</text></g>
<g id="b2-2a"><rect class="s2" x="1908" y="744" width="257" height="122" rx="4"/><text class="t" x="1914" y="758.2"><tspan x="1914">通过《思想政治》的教学和复习，使学生进一</tspan><tspan x="1914" dy="15.6">步巩固对马克思经济、政治、哲学和文化等一</tspan><tspan x="1914" dy="15.6">些基本理论知识的了解，使学生能够说明常见</tspan><tspan x="1914" dy="15.6">的经济和政治现象，学会运用相关原理分析问</tspan><tspan x="1914" dy="15.6">题的能力，学会理论联系实际的分析能力，提</tspan><tspan x="1914" dy="15.6">高学生对知识的理解和运用能力，加强学生的</tspan><tspan x="1914" dy="15.6">高考应试能力。</tspan></text></g>
<g id="b2-3"><rect class="s2" x="1800" y="1164" width="85" height="27" rx="4"/><text class="t" x="1806" y="1177.5">三、教学要求</text></g>
<g id="b2-3a"><rect class="s2" x="1908" y="894" width="257" height="74" rx="4"/><text class="t" x="1914" y="907.6"><tspan x="1914">1.学习《课程标准》，并且结合《课程标准》</tspan><tspan x="1914" dy="15.6">中的识记、理解、运用的不同层次的基本要求</tspan><tspan x="1914" dy="15.6">，准确地贯彻在教学过程中，落实教学内容，</tspan><tspan x="1914" dy="15.6">把握教材的特点。</tspan></text></g>
<g id="b2-3b"><rect class="s2" x="1908" y="996" width="257" height="105" rx="4"/><text class="t" x="1914" y="1009.5"><tspan x="1914">2.要充分利用有限课时，努力提高课堂效率。</tspan><tspan x="1914" dy="15.6">重点突出，难点讲透。要积极创造条件，充分</tspan><tspan x="1914" dy="15.6">运用各种形象、直观和现代化教学手段进行教</tspan><tspan x="1914" dy="15.6">学，以期获得更好的教学效果。根据教学内容</tspan><tspan x="1914" dy="15.6">和学生思想实际，充分利用各种丰富的教育资</tspan><tspan x="1914" dy="15.6">源开展教学活动。</tspan></text></g>
<g id="b2-3c"><rect class="s2" x="1908" y="1129" width="257" height="89" rx="4"/><text class="t" x="1914" y="1142.3"><tspan x="1914">3.认真贯彻理论联系实际的原则。将教材中的</tspan><tspan x="1914" dy="15.6">基本知识、现实生活中的实际问题、学生思想</tspan><tspan x="1914" dy="15.6">认识的问题有机结合起来，做到科学性和思想</tspan><tspan x="1914" dy="15.6">性统一，培养学生运用所学理论观察分析实际</tspan><tspan x="1914" dy="15.6">问题的能力。</tspan></text></g>
<g id="b2-3d"><rect class="s2" x="1908" y="1246" width="257" height="106" rx="4"/><text class="t" x="1914" y="1260"><tspan x="1914">4.加强学习，更新教育观念，转变教学行为和</tspan><tspan x="1914" dy="15.6">学生的学习方式，积极有效地探索和实施研究</tspan><tspan x="1914" dy="15.6">性学习，充分调动学生学习的积极性、自主性</tspan><tspan x="1914" dy="15.6">。重视对学生学习过程的指导，引导学生通过</tspan><tspan x="1914" dy="15.6">自己的研究和思考获得结论。同时做好后进生</tspan><tspan x="1914" dy="15.6">的较换工作。</tspan></text></g>
<g id="b2-3e"><rect class="s2" x="1908" y="1380" width="257" height="89" rx="4"/><text class="t" x="1914" y="1393.3"><tspan x="1914">5.在认真学习、备课、讲课的基础上，积极参</tspan><tspan x="1914" dy="15.6">加市和县里及校内的有关教研活动，互相学习</tspan><tspan x="1914" dy="15.6">，有意识地捕捉教学和教育的信息，更新教育</tspan><tspan x="1914" dy="15.6">、教学理念，提高自身的素质，以适应教学改</tspan><tspan x="1914" dy="15.6">革的新要求。</tspan></text></g>
<g id="b2-4"><rect class="s2" x="1800" y="1606" width="109" height="27" rx="4"/><text class="t" x="1806" y="1619.5">四、教学活动设计</text></g>
<g id="b2-4a"><rect class="s2" x="1933" y="1497" width="156" height="27" rx="4"/><text class="t" x="1939" y="1510.5">1.同组指导教师的教学意见</text></g>
<g id="b2-4b"><rect class="s2" x="1933" y="1551" width="82" height="28" rx="4"/><text class="t" x="1939" y="1565">2.师生交流会</text></g>
<g id="b2-4c"><rect class="s2" x="1933" y="1606" width="106" height="27" rx="4"/><text class="t" x="1939" y="1619.5">3.研究教学实践课</text></g>
<g id="b2-4d"><rect class="s2" x="1933" y="1661" width="181" height="26" rx="4"/><text class="t" x="1939" y="1674">4.参观示范课、讲座、集体备课</text></g>
<g id="b2-4e"><rect class="s2" x="1933" y="1714" width="119" height="27" rx="4"/><text class="t" x="1939" y="1727.5">5.新高考教育的研究</text></g>
<g id="b2-5"><rect class="s2" x="1800" y="2114" width="145" height="27" rx="4"/><text class="t" x="1806" y="2127.5">五、本学年教学工作要点</text></g>
<g id="b2-5a"><rect class="s2" x="1969" y="1792" width="257" height="42" rx="4"/><text class="t" x="1975" y="1805.2"><tspan x="1975">1.认真研读新考纲，明确考点，把屋考试方向</tspan><tspan x="1975" dy="15.6">。</tspan></text></g>
<g id="b2-5a1"><rect class="s2" x="2250" y="1768" width="256" height="91" rx="4"/><text class="t" x="2256" y="1782.3"><tspan x="2256">认真研究考纲规定考试的性质，内容，形式及</tspan><tspan x="2256" dy="15.6">试卷结构，考查的知识范围，考试的基本型及</tspan><tspan x="2256" dy="15.6">要求;分析考点，明确每个考点的本质，了解</tspan><tspan x="2256" dy="15.6">考点的内涵和外延，明确复习的方向，提高复</tspan><tspan x="2256" dy="15.6">习的针对性和实效性。</tspan></text></g>
<g id="b2-5b"><rect class="s2" x="1969" y="1984" width="218" height="27" rx="4"/><text class="t" x="1975" y="1997.5">2.以教材为本，夯实基础，构建网络。</text></g>
<g id="b2-5b1"><rect class="s2" x="2212" y="1886" width="256" height="106" rx="4"/><text class="t" x="2218" y="1900"><tspan x="2218">首先，立足教材，认真梳理知识，狠抓基础知</tspan><tspan x="2218" dy="15.6">识的掌握。以本为本，坚决、踏实地抓好学生</tspan><tspan x="2218" dy="15.6">对课本基础知识的掌握。每节课利用10分钟</tspan><tspan x="2218" dy="15.6">来考查学生对课本基础知识的掌握情况，以问</tspan><tspan x="2218" dy="15.6">答题的形式来进行考查，考不好的同学必须在</tspan><tspan x="2218" dy="15.6">限定的时间内去掌握。</tspan></text></g>
<g id="b2-5b2"><rect class="s2" x="2212" y="2019" width="256" height="75" rx="4"/><text class="t" x="2218" y="2033.1"><tspan x="2218">其次，要构建知识网络。复习时注重知识体系</tspan><tspan x="2218" dy="15.6">的构建，重视网络化复习，注重学科内经济常</tspan><tspan x="2218" dy="15.6">识、哲学常识、政治常识的联系和综合。网络</tspan><tspan x="2218" dy="15.6">化复习从纵横两角度双向展开。</tspan></text></g>
<g id="b2-5c"><rect class="s2" x="1969" y="2152" width="206" height="27" rx="4"/><text class="t" x="1975" y="2165.5">3.关注热点，联系实际，提高能力。</text></g>
<g id="b2-5c1"><rect class="s2" x="2199" y="2121" width="256" height="90" rx="4"/><text class="t" x="2205" y="2134.8"><tspan x="2205">复习基础知识的同时，有意识的引导学生关注</tspan><tspan x="2205" dy="15.6">社会政治、经济、文化生活，特别是社会生活</tspan><tspan x="2205" dy="15.6">中的热点、重点问题。弄清来龙去脉，了解产</tspan><tspan x="2205" dy="15.6">生的原因，分析如何发展，注意解决对策，并</tspan><tspan x="2205" dy="15.6">学会用所学的知识进行分析。</tspan></text></g>
<g id="b2-5d"><rect class="s2" x="1969" y="2293" width="206" height="27" rx="4"/><text class="t" x="1975" y="2306.5">4.强化训练，精选试题，提高水平。</text></g>
<g id="b2-5d1"><rect class="s2" x="2199" y="2239" width="256" height="137" rx="4"/><text class="t" x="2205" y="2252.9"><tspan x="2205">在高考的最后阶段的复习过程中，结合近几年</tspan><tspan x="2205" dy="15.6">来文综测试反映较好的试题，进行思维过程的</tspan><tspan x="2205" dy="15.6">训练，熟悉高考文综试题的命题思路，领悟试</tspan><tspan x="2205" dy="15.6">题的设计立意、设问角度、答案组织等关键环</tspan><tspan x="2205" dy="15.6">节。通过练习查漏补缺，掌握答题规律、技巧</tspan><tspan x="2205" dy="15.6">，提高应试能力。每次的习题要经过筛选，练</tspan><tspan x="2205" dy="15.6">习要练，也要讲评，而且要讲得精，评得透，</tspan><tspan x="2205" dy="15.6">做到举一反三。</tspan></text></g>
<g id="b2-5e"><rect class="s2" x="1969" y="2425" width="192" height="27" rx="4"/><text class="t" x="1975" y="2438.5">5.加强学法指导，提高应试能力。</text></g>
<g id="b2-5e1"><rect class="s2" x="2199" y="2403" width="256" height="74" rx="4"/><text class="t" x="2205" y="2416.6"><tspan x="2205">要重视学法指导，教会学生审题、答题的方法</tspan><tspan x="2205" dy="15.6">，规范答题步骤，培养学生良好的答题习惯，</tspan><tspan x="2205" dy="15.6">提高学生的应试技巧和能力，减少不必要的失</tspan><tspan x="2205" dy="15.6">分。</tspan></text></g>

<g id="b4"><rect x="1516" y="2879" width="260" height="58" rx="5" fill="#FF0A6A"/><text class="tb w" x="1522" y="2897.5"><tspan x="1522">高二政治备课组教师个人教学计划</tspan><tspan x="1522" dy="21">4</tspan></text></g>
<g id="b4-1"><rect class="s4" x="1800" y="2521" width="85" height="27" rx="4"/><text class="t" x="1806" y="2534.5">一、指导思想</text></g>
<g id="b4-1a"><rect class="s4" x="1908" y="2505" width="255" height="58" rx="4"/><text class="t" x="1914" y="2518.4"><tspan x="1914">根据学校教导处工作计划与安排，紧跟高中课</tspan><tspan x="1914" dy="15.6">程改革的步伐，以新的教育教学理念为指导，</tspan><tspan x="1914" dy="15.6">确保高中政治教育教学质量的稳步前进。</tspan></text></g>
<g id="b4-2"><rect class="s4" x="1800" y="2674" width="121" height="27" rx="4"/><text class="t" x="1806" y="2687.5">二、教学目的和任务</text></g>
<g id="b4-2a"><rect class="s4" x="1944" y="2591" width="257" height="90" rx="4"/><text class="t" x="1950" y="2604.8"><tspan x="1950">通过高一政治的学习，培养学生的自主学习、</tspan><tspan x="1950" dy="15.6">独立思考的能力。拓展学生的知识视野，学会</tspan><tspan x="1950" dy="15.6">辨证看问题的能力。了解，认识，分析日常生</tspan><tspan x="1950" dy="15.6">活中的政治现象和其中包含的政治道理，提高</tspan><tspan x="1950" dy="15.6">学生参与政治生活的积极性和能力。</tspan></text></g>
<g id="b4-2b"><rect class="s4" x="1944" y="2709" width="257" height="58" rx="4"/><text class="t" x="1950" y="2722.4"><tspan x="1950">本学期主要完成政治生活教学任务;强化学生</tspan><tspan x="1950" dy="15.6">学习方法和解题方法的训练，特别加强对基础</tspan><tspan x="1950" dy="15.6">知识的掌握。</tspan></text></g>
<g id="b4-3"><rect class="s4" x="1800" y="2819" width="108" height="26" rx="4"/><text class="t" x="1806" y="2832">三、学生情况分析</text></g>
<g id="b4-3a"><rect class="s4" x="1933" y="2795" width="256" height="73" rx="4"/><text class="t" x="1939" y="2808.1"><tspan x="1939">这届一共有四个文科班，我承担两个班的教学</tspan><tspan x="1939" dy="15.6">任务，学生基础相对比较好学风好、学生独</tspan><tspan x="1939" dy="15.6">立思考的能力强。因此，在教学过程中一定得</tspan><tspan x="1939" dy="15.6">充分准备，提高学生的成绩。</tspan></text></g>
<g id="b4-4"><rect class="s4" x="1800" y="3269" width="108" height="26" rx="4"/><text class="t" x="1806" y="3282">四、具体教学措施</text></g>
<g id="b4-4a"><rect class="s4" x="1933" y="2896" width="256" height="138" rx="4"/><text class="t" x="1939" y="2910.4"><tspan x="1939">1、提高课堂教学效率，充分发挥多媒体的辅</tspan><tspan x="1939" dy="15.6">助作用，课堂争取做到有形式有内容，既能提</tspan><tspan x="1939" dy="15.6">高学生学习的兴趣，又能很好掌握学习内容。</tspan><tspan x="1939" dy="15.6">课堂教学要按照县教育局下发的课程改革实施</tspan><tspan x="1939" dy="15.6">方案为指导，采用和完善问题导入——学生</tspan><tspan x="1939" dy="15.6">自主探究——教师精讲——检测反馈这一教</tspan><tspan x="1939" dy="15.6">学模式。使课堂变成生成知识的地方而不是灌</tspan><tspan x="1939" dy="15.6">输知识的地方。</tspan></text></g>
<g id="b4-4b"><rect class="s4" x="1933" y="3061" width="256" height="90" rx="4"/><text class="t" x="1939" y="3074.8"><tspan x="1939">2、让学生充分参与课堂教学。课前要依托学</tspan><tspan x="1939" dy="15.6">案，有效的预习，并要把难点，重点，疑点记</tspan><tspan x="1939" dy="15.6">载下来。课堂上要求学生积极参与到释疑解惑</tspan><tspan x="1939" dy="15.6">的过程中。课后通过作业和检测来完成知识的</tspan><tspan x="1939" dy="15.6">整合，迁移，运用。</tspan></text></g>
<g id="b4-4c"><rect class="s4" x="1933" y="3179" width="256" height="58" rx="4"/><text class="t" x="1939" y="3192.4"><tspan x="1939">3、强化培优工作。抓好尖子生的培养工作，</tspan><tspan x="1939" dy="15.6">尖子生的出现不但能增强老师教学的信心，而</tspan><tspan x="1939" dy="15.6">且会对其他学生起到引导和带动作用。</tspan></text></g>
<g id="b4-4d"><rect class="s4" x="1933" y="3265" width="256" height="74" rx="4"/><text class="t" x="1939" y="3278.6"><tspan x="1939">4、加强单元检测和训练。本学期准备安排四</tspan><tspan x="1939" dy="15.6">次单元测试，每次测试完要认真阅卷，尤其是</tspan><tspan x="1939" dy="15.6">要加强对每次测试试卷的分析及解题方法的指</tspan><tspan x="1939" dy="15.6">导。帮住学生提高运用知识的能力</tspan></text></g>
<g id="b4-4e"><rect class="s4" x="1933" y="3366" width="256" height="75" rx="4"/><text class="t" x="1939" y="3380.1"><tspan x="1939">5、加强集体备课。同一年级的两位任课教师</tspan><tspan x="1939" dy="15.6">要认真研究教材，教法，以及学生的实际情况</tspan><tspan x="1939" dy="15.6">，尤其要探讨教学方法的转变，渗透新课改的</tspan><tspan x="1939" dy="15.6">理念，为新一轮课改做好探索工作。</tspan></text></g>
<g id="b4-4f"><rect class="s4" x="1933" y="3484" width="256" height="42" rx="4"/><text class="t" x="1939" y="3497.2"><tspan x="1939">6、加强教育教学研究。要想由经验型教师成</tspan><tspan x="1939" dy="15.6">长为</tspan></text></g>
<g id="b4-4f1"><rect class="s4" x="2214" y="3468" width="255" height="74" rx="4"/><text class="t" x="2220" y="3481.6"><tspan x="2220">学习型教师，必须要加强研究，通过订阅各种</tspan><tspan x="2220" dy="15.6">资料，了解教改动态。撰写论文，反思，教学</tspan><tspan x="2220" dy="15.6">案例，不断积累经验，化解教学中的难题，提</tspan><tspan x="2220" dy="15.6">高教学质量。</tspan></text></g>
<g id="b4-4g"><rect class="s4" x="1933" y="3570" width="256" height="58" rx="4"/><text class="t" x="1939" y="3583.4"><tspan x="1939">7、加强学生课后辅导，及时解决学生不明白</tspan><tspan x="1939" dy="15.6">的问题，避免因累积而厌学。培养学生解决实</tspan><tspan x="1939" dy="15.6">际问题的能力。</tspan></text></g>

<g id="rel"><rect x="1516" y="3885" width="260" height="57" rx="5" fill="#7C3AED"/><text class="tb w" x="1522" y="3903"><tspan x="1522">高二政治备课组教师个人教学计划</tspan><tspan x="1522" dy="21">相关文章：</tspan></text></g>
<g id="rel-1"><rect class="s6" x="1800" y="3655" width="179" height="27" rx="4"/><text class="t" x="1806" y="3668.5">★ 关于高二上政治教学计划5篇</text></g>
<g id="rel-2"><rect class="s6" x="1800" y="3710" width="166" height="27" rx="4"/><text class="t" x="1806" y="3723.5">★ 高二政治网上教学计划5篇</text></g>
<g id="rel-3"><rect class="s6" x="1800" y="3764.5" width="154" height="27" rx="4"/><text class="t" x="1806" y="3778">★ 政治教学计划普通版5篇</text></g>
<g id="rel-4"><rect class="s6" x="1800" y="3819" width="179" height="27" rx="4"/><text class="t" x="1806" y="3832.5">★ 高二政治信息化教学计划5篇</text></g>
<g id="rel-5"><rect class="s6" x="1800" y="3873" width="204" height="27" rx="4"/><text class="t" x="1806" y="3886.5">★ 新学期高中政治学科教学计划5篇</text></g>
<g id="rel-6"><rect class="s6" x="1800" y="3928" width="215" height="27" rx="4"/><text class="t" x="1806" y="3941.5">★ 高二化学备课组教学计划与开展5篇</text></g>
<g id="rel-7"><rect class="s6" x="1800" y="3982" width="179" height="27" rx="4"/><text class="t" x="1806" y="3995.5">★ 高二化学备课组教学计划5篇</text></g>
<g id="rel-8"><rect class="s6" x="1800" y="4036" width="122" height="27" rx="4"/><text class="t" x="1806" y="4049.5">★ 政治教研工作材料</text></g>
<g id="rel-9"><rect class="s6" x="1800" y="4090.5" width="191" height="27" rx="4"/><text class="t" x="1806" y="4104">★ 高一政治课程教学计划安排5篇</text></g>
<g id="rel-10"><rect class="s6" x="1800" y="4145" width="166" height="27" rx="4"/><text class="t" x="1806" y="4158.5">★ 新版高一政治教学计划5篇</text></g>
</g>
</svg>
